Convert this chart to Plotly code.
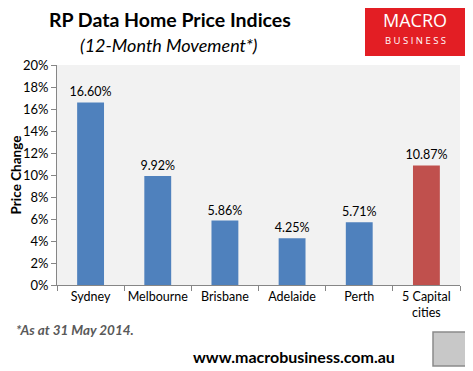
import plotly.graph_objects as go

categories = ["Sydney", "Melbourne", "Brisbane", "Adelaide", "Perth", "5 Capital<br>cities"]
values = [16.60, 9.92, 5.86, 4.25, 5.71, 10.87]
colors = ["#4f81bd"] * 5 + ["#c0504d"]
y_ticks = [0, 2, 4, 6, 8, 10, 12, 14, 16, 18, 20]

font = "Lato"
OFF = 8  # default page body margin in the written HTML

fig = go.Figure(go.Bar(
    x=categories, y=values,
    marker=dict(color=colors, line=dict(width=0)),
    text=[f"{v:.2f}%" for v in values],
    textposition="outside",
    textangle=0,
    constraintext="none",
    textfont=dict(family=font, size=12.5, color="#000000"),
    cliponaxis=False,
    width=0.4,
))

fig.update_layout(
    width=473 - OFF, height=371 - OFF,
    margin=dict(l=57 - OFF, r=13, t=65 - OFF, b=86, autoexpand=False),
    paper_bgcolor="white",
    plot_bgcolor="#f2f2f2",
    showlegend=False,
    font=dict(family=font, size=12, color="#000000"),
    xaxis=dict(
        tickson="boundaries", ticks="outside", ticklen=5, tickcolor="#868686",
        showline=True, linecolor="#868686", linewidth=1,
        tickangle=0, automargin=False,
        tickfont=dict(family=font, size=12.5, color="#000000"),
        showgrid=False,
    ),
    yaxis=dict(
        range=[0, 20], tickvals=y_ticks, ticktext=[f"{t}%" for t in y_ticks],
        ticks="outside", ticklen=5, tickcolor="#868686",
        showline=True, linecolor="#868686", linewidth=1,
        showgrid=False, zeroline=False, automargin=False,
        tickfont=dict(family=font, size=13, color="#000000"),
        title=dict(text="<b>Price Change</b>", font=dict(family=font, size=13.5, color="#000000"), standoff=6),
    ),
)

def px_x(x):
    return (x - 57) / 403

def px_y(y):
    return (285 - y) / 220

shapes = [
    dict(type="rect", xref="paper", yref="paper",
         x0=px_x(365), x1=px_x(466), y0=px_y(56), y1=px_y(3),
         fillcolor="#e31e24", line=dict(width=0), layer="below"),
    dict(type="rect", xref="paper", yref="paper",
         x0=px_x(433), x1=px_x(467), y0=px_y(366), y1=px_y(332),
         fillcolor="#c8c8c8", line=dict(color="#8a8a8a", width=1.5)),
]
fig.update_layout(shapes=shapes)

annotations = [
    dict(text="<b>RP Data Home Price Indices</b>", x=px_x(170), y=px_y(20),
         font=dict(family=font, size=19.5, color="#000000")),
    dict(text="<i>(12-Month Movement*)</i>", x=px_x(169), y=px_y(45),
         font=dict(family=font, size=18, color="#000000")),
    dict(text="MACRO", x=px_x(415), y=px_y(20),
         font=dict(family="Open Sans", size=18, color="#ffffff")),
    dict(text="B U S I N E S S", x=px_x(415), y=px_y(40),
         font=dict(family="Open Sans", size=9.5, color="#ffffff")),
    dict(text="<b><i>*As at 31 May 2014.</i></b>", x=px_x(75), y=px_y(330),
         font=dict(family=font, size=13.5, color="#595959")),
    dict(text="<b>www.macrobusiness.com.au</b>", x=px_x(294), y=px_y(356),
         font=dict(family=font, size=16, color="#000000")),
]
for a in annotations:
    a.update(xref="paper", yref="paper", showarrow=False, xanchor="center", yanchor="middle")
fig.update_layout(annotations=annotations)

fig.write_html("out.html")
